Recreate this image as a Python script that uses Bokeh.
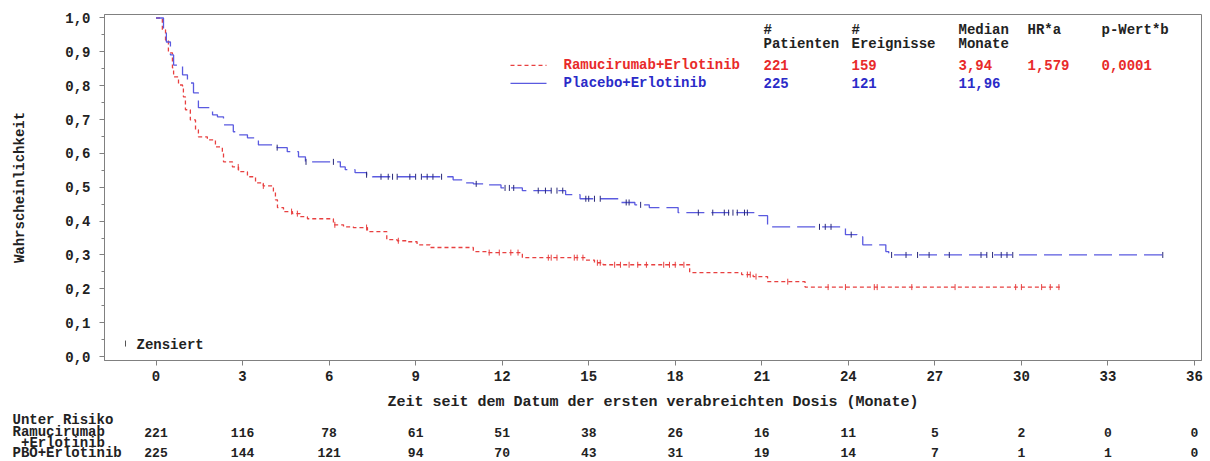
import math
from bokeh.plotting import figure
from bokeh.models import Range1d, FixedTicker, CustomJSTickFormatter, ColumnDataSource
from bokeh.layouts import column
from bokeh.embed import file_html
from bokeh.resources import INLINE
from bokeh.core.properties import value

# ---------------- data ----------------
x_ticks = [0, 3, 6, 9, 12, 15, 18, 21, 24, 27, 30, 33, 36]
y_ticks = [0.0, 0.1, 0.2, 0.3, 0.4, 0.5, 0.6, 0.7, 0.8, 0.9, 1.0]

# Ramucirumab+Erlotinib: event times (months) and survival after each step
ram_times = [0.22, 0.33, 0.43, 0.57, 0.61, 0.78, 0.92, 0.95, 1.02, 1.19, 1.37, 1.47, 1.78,
             2.06, 2.30, 2.34, 2.65, 2.86, 3.17, 3.45, 3.72, 4.07, 4.14, 4.21, 4.42, 4.73,
             5.00, 5.25, 6.15, 6.50, 6.84, 7.33, 8.00, 8.36, 8.71, 9.05, 9.50, 11.00, 11.50,
             12.70, 14.90, 15.20, 15.50, 18.50, 20.30, 20.70, 21.20, 22.50]
ram_surv = [0.965, 0.935, 0.897, 0.853, 0.826, 0.802, 0.794, 0.767, 0.729, 0.699, 0.670,
            0.649, 0.640, 0.619, 0.602, 0.575, 0.560, 0.546, 0.531, 0.513, 0.504, 0.487,
            0.463, 0.440, 0.428, 0.422, 0.413, 0.407, 0.389, 0.383, 0.381, 0.369, 0.345,
            0.342, 0.339, 0.330, 0.322, 0.310, 0.307, 0.292, 0.285, 0.277, 0.271, 0.248,
            0.242, 0.236, 0.221, 0.205]
ram_end = 31.4
ram_censored = [2.85, 3.72, 4.7, 4.9, 6.2, 7.3, 8.4, 11.55, 11.9, 12.3, 12.55, 13.6, 13.7,
                13.9, 14.5, 14.6, 14.8, 15.3, 15.4, 15.9, 16.1, 16.4, 16.7, 17.0, 17.6, 17.8,
                18.0, 18.3, 20.5, 20.6, 20.8, 21.9, 23.3, 23.9, 24.9, 25.0, 26.2, 27.7, 29.8,
                30.0, 30.7, 31.0, 31.3]

# Placebo+Erlotinib
pbo_times = [0.26, 0.36, 0.50, 0.61, 0.92, 1.09, 1.30, 1.47, 1.96, 2.13, 2.34, 2.68, 2.82,
             3.17, 3.55, 4.20, 4.55, 4.94, 5.18, 6.39, 6.56, 6.90, 7.30, 7.50, 10.30, 10.65,
             11.00, 11.50, 11.96, 12.70, 14.20, 14.70, 16.10, 16.60, 17.10, 18.10, 20.90,
             21.20, 23.90, 24.30, 24.50, 25.30, 25.40]
pbo_surv = [0.965, 0.929, 0.891, 0.861, 0.832, 0.808, 0.779, 0.735, 0.714, 0.708, 0.684,
            0.664, 0.655, 0.646, 0.625, 0.617, 0.605, 0.590, 0.575, 0.560, 0.552, 0.543,
            0.537, 0.531, 0.522, 0.513, 0.510, 0.507, 0.498, 0.490, 0.478, 0.466, 0.455,
            0.448, 0.440, 0.425, 0.416, 0.383, 0.360, 0.354, 0.330, 0.310, 0.300]
pbo_end = 34.9
pbo_censored = [4.2, 5.2, 6.15, 7.3, 7.8, 8.05, 8.2, 8.36, 8.8, 9.0, 9.2, 9.4, 9.6, 9.9, 11.1,
                12.1, 12.25, 12.4, 13.25, 13.5, 13.7, 13.9, 14.1, 14.9, 15.0, 15.2, 15.4,
                16.3, 16.4, 16.8, 18.8, 19.3, 19.7, 19.85, 20.0, 20.15, 20.4, 20.5, 23.0,
                23.2, 23.4, 24.1, 25.5, 26.0, 26.4, 26.8, 27.5, 28.6, 28.8, 29.0, 29.3, 29.5,
                29.7, 34.9]

# legend table
group_names = ["Ramucirumab+Erlotinib", "Placebo+Erlotinib"]
n_patients = ["221", "225"]
n_events = ["159", "121"]
median_months = ["3,94", "11,96"]
hazard_ratio = ["1,579", ""]
p_value = ["0,0001", ""]
header_row1 = ["#", "#", "Median", "HR*a", "p-Wert*b"]
header_row2 = ["Patienten", "Ereignisse", "Monate", "", ""]

# numbers at risk
risk_times = [0, 3, 6, 9, 12, 15, 18, 21, 24, 27, 30, 33, 36]
risk_ram = [221, 116, 78, 61, 51, 38, 26, 16, 11, 5, 2, 0, 0]
risk_pbo = [225, 144, 121, 94, 70, 43, 31, 19, 14, 7, 1, 1, 0]
risk_title = "Unter Risiko"
risk_labels = ["Ramucirumab", "+Erlotinib", "PBO+Erlotinib"]

# ---------------- styling / geometry ----------------
FONT = "Liberation Mono"
RED_TXT = "#e82a2a"
BLUE_TXT = "#2b2bc8"
RED_LINE = "#e84040"
BLUE_LINE = "#5a5ae0"
AXIS_GRAY = "#808080"

FIG_W = 1204
TOTAL_H = 460
MAIN_H = 413
RISK_H = TOTAL_H - MAIN_H
FRAME_L, FRAME_R, FRAME_T, FRAME_B = 104, 1201, 14, 361
X0_PX, X36_PX = 155.5, 1194.0
Y1_PX, Y0_PX = 17.5, 357.0
SX = (X36_PX - X0_PX) / 36.0
SY = (Y0_PX - Y1_PX)
X_START = -(X0_PX - FRAME_L) / SX
X_END = 36 + (FRAME_R - X36_PX) / SX
Y_START = -(FRAME_B - Y0_PX) / SY
Y_END = 1 + (Y1_PX - FRAME_T) / SY


def dx(px):
    return X_START + (px - FRAME_L) / SX


def dy(py):
    return Y_START + (FRAME_B - py) / SY


def surv_at(t, times, surv):
    s = 1.0
    for ti, si in zip(times, surv):
        if ti <= t:
            s = si
    return s


xr = Range1d(X_START, X_END)
p = figure(width=FIG_W, height=MAIN_H, output_backend="svg", toolbar_location=None,
           x_range=xr, y_range=Range1d(Y_START, Y_END),
           min_border_left=FRAME_L, min_border_right=FIG_W - FRAME_R,
           min_border_top=FRAME_T,
           min_border_bottom=MAIN_H - FRAME_B)
p.grid.visible = False
p.outline_line_color = AXIS_GRAY
p.background_fill_color = "white"
p.border_fill_color = "white"

p.xaxis.ticker = FixedTicker(ticks=x_ticks, minor_ticks=[])
p.yaxis.ticker = FixedTicker(ticks=y_ticks, minor_ticks=[v + 0.05 for v in y_ticks[:-1]])
p.yaxis.formatter = CustomJSTickFormatter(code="return tick.toFixed(1).replace('.', ',');")
for ax in (p.xaxis[0], p.yaxis[0]):
    ax.axis_line_color = AXIS_GRAY
    ax.major_tick_line_color = AXIS_GRAY
    ax.minor_tick_line_color = AXIS_GRAY
    ax.major_tick_in = 0
    ax.major_tick_out = 5
    ax.minor_tick_in = 0
    ax.minor_tick_out = 3
    ax.major_label_text_font = FONT
    ax.major_label_text_font_style = "bold"
    ax.major_label_text_font_size = "14px"
    ax.major_label_text_color = "#222222"
    ax.axis_label_text_font = FONT
    ax.axis_label_text_font_style = "bold"
    ax.axis_label_text_font_size = "14px"
    ax.axis_label_text_color = "#222222"
p.xaxis.axis_label = "Zeit seit dem Datum der ersten verabreichten Dosis (Monate)"
p.xaxis.axis_label_text_font_size = "15px"
p.yaxis.axis_label = "Wahrscheinlichkeit"
p.xaxis.major_label_standoff = 5
p.xaxis.axis_label_standoff = 10
p.yaxis.major_label_standoff = 9
p.yaxis.axis_label_standoff = 34

# curves
p.step([0] + ram_times + [ram_end], [1.0] + ram_surv + [ram_surv[-1]], mode="after",
       line_color=RED_LINE, line_width=1.3, line_dash="4 3")
p.step([0] + pbo_times + [pbo_end], [1.0] + pbo_surv + [pbo_surv[-1]], mode="after",
       line_color=BLUE_LINE, line_width=1.3, line_dash="18 7")

# censored marks
p.scatter(ram_censored, [surv_at(t, ram_times, ram_surv) for t in ram_censored],
          marker="dash", angle=math.pi / 2, size=6, line_color=RED_LINE, line_width=1)
p.scatter(pbo_censored, [surv_at(t, pbo_times, pbo_surv) for t in pbo_censored],
          marker="dash", angle=math.pi / 2, size=6, line_color="#2a2a78", line_width=1)

# "Zensiert" legend
p.scatter([dx(125)], [dy(344)], marker="dash", angle=math.pi / 2, size=6,
          line_color="#555555", line_width=1)
p.text([dx(136)], [dy(345)], text=["Zensiert"], text_font=value(FONT),
       text_font_style="bold", text_font_size="14px", text_color="#222222",
       text_baseline="middle", text_align="left")

# legend table (top right)
col_px = [763, 851, 958, 1027, 1101]
hx, hy, ht = [], [], []
for i, c in enumerate(col_px):
    if header_row1[i]:
        hx.append(dx(c)); hy.append(dy(30)); ht.append(header_row1[i])
    if header_row2[i]:
        hx.append(dx(c)); hy.append(dy(44)); ht.append(header_row2[i])
p.text(x=hx, y=hy, text=ht, text_font=value(FONT), text_font_style="bold",
       text_font_size="14px", text_color="#222222", text_baseline="middle", text_align="left")

row_px = [65, 83]
row_colors = [RED_TXT, BLUE_TXT]
lx, ly, lt, lc = [], [], [], []
for r in range(2):
    cells = [group_names[r], n_patients[r], n_events[r], median_months[r], hazard_ratio[r], p_value[r]]
    xs = [563] + col_px
    for c, txt in zip(xs, cells):
        if txt:
            lx.append(dx(c)); ly.append(dy(row_px[r])); lt.append(txt); lc.append(row_colors[r])
p.text(x="x", y="y", text="t", text_color="c",
       source=ColumnDataSource(dict(x=lx, y=ly, t=lt, c=lc)),
       text_font=value(FONT), text_font_style="bold", text_font_size="14px",
       text_baseline="middle", text_align="left")
p.line([dx(510), dx(546)], [dy(65), dy(65)], line_color=RED_LINE, line_width=1.3, line_dash="4 3")
p.line([dx(510), dx(546)], [dy(83), dy(83)], line_color=BLUE_LINE, line_width=1.3)

# ---------------- numbers-at-risk table ----------------
RISK_TOP = MAIN_H
q = figure(width=FIG_W, height=RISK_H, output_backend="svg", toolbar_location=None,
           x_range=xr, y_range=Range1d(0, RISK_H),
           x_axis_location=None, y_axis_location=None,
           min_border=0, min_border_left=FRAME_L, min_border_right=FIG_W - FRAME_R)
q.grid.visible = False
q.outline_line_color = None
q.background_fill_color = "white"
q.border_fill_color = "white"


def ry(py):
    return RISK_TOP + RISK_H - py


risk_font = dict(text_font=value(FONT), text_font_style="bold", text_font_size="13px",
                 text_color="#222222", text_baseline="middle")
label_font = dict(risk_font, text_font_size="14px")
q.text([dx(12)], [ry(419)], text=[risk_title], text_align="left", level="overlay", **label_font)
q.text([dx(12), dx(20.5), dx(12)], [ry(431.5), ry(442), ry(452)], text=risk_labels,
       text_align="left", level="overlay", **label_font)
q.text(risk_times, [ry(431.5)] * len(risk_times), text=[str(v) for v in risk_ram],
       text_align="center", **risk_font)
q.text(risk_times, [ry(452)] * len(risk_times), text=[str(v) for v in risk_pbo],
       text_align="center", **risk_font)

layout = column(p, q, spacing=0)
open("out.html", "w").write(file_html(layout, INLINE))
